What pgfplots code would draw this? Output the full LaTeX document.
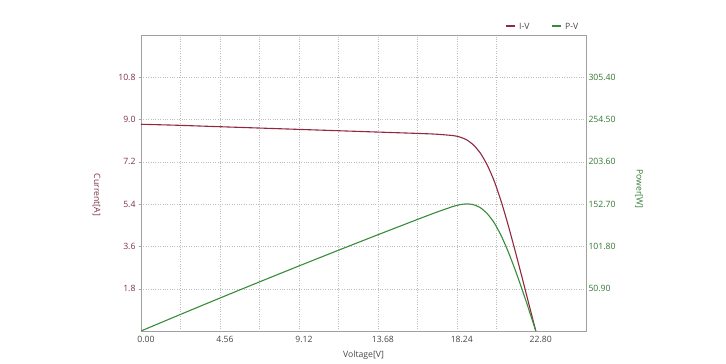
\documentclass[border=0pt]{standalone}
\usepackage{fontspec}
\setmainfont{Open Sans}
\usepackage{pgfplots}
\usepackage{pgfplotstable}
\pgfplotsset{compat=1.18}
\definecolor{ivred}{RGB}{145,40,65}
\definecolor{pvgreen}{RGB}{55,140,55}
\definecolor{lblred}{RGB}{125,50,65}
\definecolor{lblgreen}{RGB}{50,120,50}
\definecolor{gridc}{RGB}{190,190,190}
\definecolor{framec}{RGB}{160,160,160}
\definecolor{txtc}{RGB}{70,70,70}

\pgfplotstableread{
V I
0 8.80
2 8.76
4 8.71
6 8.66
8 8.61
10 8.56
12 8.51
14 8.46
16 8.41
17 8.38
18 8.32
18.4 8.26
18.8 8.14
19.2 7.92
19.6 7.57
20.0 7.06
20.4 6.38
20.8 5.52
21.2 4.52
21.6 3.43
22.0 2.30
22.4 1.15
22.8 0
}\ivdata

\pgfplotstableread{
V P
0 0
2 17.52
4 34.84
6 51.96
8 68.88
10 85.60
12 102.12
14 118.44
16 134.56
17 142.46
18 149.76
18.4 151.98
18.8 153.03
19.2 152.06
19.6 148.37
20.0 141.20
20.4 130.15
20.8 114.82
21.2 95.82
21.6 74.09
22.0 50.60
22.4 25.76
22.8 0
}\pvdata

\pgfplotsset{
  base/.style={
    scale only axis, width=445bp, height=296bp,
    at={(0,0)}, anchor=south west,
    xmin=0, xmax=25.7,
    /pgf/number format/assume math mode=true,
    tick label style={font=\fontsize{8.7}{10}\selectfont},
    label style={font=\fontsize{8.7}{10}\selectfont},
    axis line style={framec},
    tick align=outside,
    major tick length=2bp,
    minor tick length=0pt,
  }
}

\begin{document}
\begin{tikzpicture}
\path[use as bounding box] (-141bp,-33bp) rectangle (585bp,331bp);
\begin{axis}[base,
  ymin=0, ymax=12.6,
  xtick={0,4.56,9.12,13.68,18.24,22.8},
  xticklabels={0.00,4.56,9.12,13.68,18.24,22.80},
  minor xtick={2.28,4.56,6.84,9.12,11.4,13.68,15.96,18.24,20.52},
  xtick style={draw=none},
  xtick pos=bottom,
  ytick pos=left,
  ytick={1.8,3.6,5.4,7.2,9.0,10.8},
  yticklabels={1.8,3.6,5.4,7.2,9.0,10.8},
  ytick style={framec},
  xminorgrids=true, ymajorgrids=true, xmajorgrids=false,
  grid style={gridc, dotted},
  minor grid style={gridc, dotted},
  xticklabel style={txtc, xshift=5bp},
  yticklabel style={lblred},
  xlabel={Voltage[V]},
  xlabel style={txtc, at={(axis description cs:0.5,-0.081)}, anchor=center},
  ylabel={Current[A]},
  ylabel style={lblred, at={(axis description cs:-0.1,0.46)}, rotate=180, anchor=center},
]
\addplot[ivred, line width=1.1bp, smooth, tension=0.4] table[x=V, y=I] {\ivdata};
\end{axis}
\begin{axis}[base,
  axis x line=none, axis y line*=right,
  ymin=0, ymax=356.3,
  ytick={50.9,101.8,152.7,203.6,254.5,305.4},
  yticklabels={50.90,101.80,152.70,203.60,254.50,305.40},
  ytick style={draw=none},
  yticklabel style={lblgreen, xshift=-3bp},
  ylabel={Power[W]},
  ylabel style={lblgreen, at={(axis description cs:1.119,0.48)}, rotate=180, anchor=center},
]
\addplot[pvgreen, line width=1.1bp, smooth, tension=0.4] table[x=V, y=P] {\pvdata};
\end{axis}
% legend
\draw[ivred, line width=1.1bp] (365bp,305bp) -- (374bp,305bp);
\node[anchor=west, inner sep=0pt, text=txtc, font=\fontsize{8.7}{10}\selectfont] at (378bp,305bp) {I-V};
\draw[pvgreen, line width=1.1bp] (411bp,305bp) -- (420bp,305bp);
\node[anchor=west, inner sep=0pt, text=txtc, font=\fontsize{8.7}{10}\selectfont] at (424bp,305bp) {P-V};
\end{tikzpicture}
\end{document}
